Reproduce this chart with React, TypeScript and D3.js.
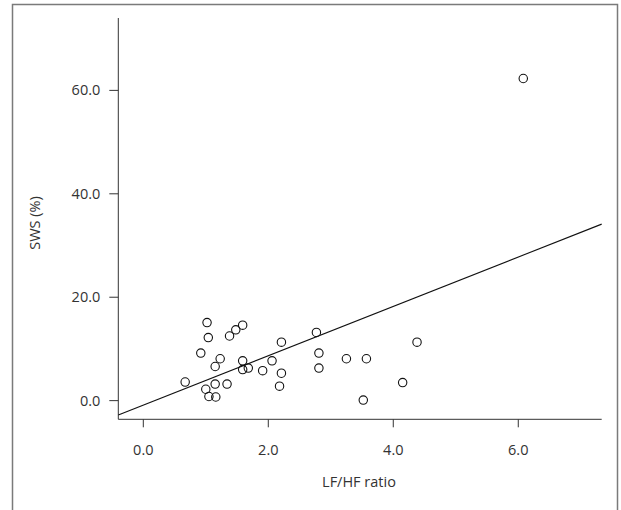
import React from "react";
import * as d3 from "d3";

// LF/HF ratio vs SWS (%)
const lfhf = [
  0.67, 0.92, 1.0, 1.02, 1.04, 1.05, 1.15, 1.15, 1.16, 1.23, 1.34, 1.38, 1.48, 1.59, 1.59, 1.59,
  1.68, 1.91, 2.06, 2.21, 2.21, 2.18, 2.77, 2.81, 2.81, 3.25, 3.57, 3.52, 4.15, 4.38, 6.08,
];
const sws = [
  3.6, 9.2, 2.2, 15.1, 12.2, 0.8, 6.6, 3.2, 0.7, 8.1, 3.2, 12.5, 13.7, 14.6, 7.7, 6.0,
  6.3, 5.8, 7.7, 11.3, 5.3, 2.8, 13.2, 9.2, 6.3, 8.1, 8.1, 0.1, 3.5, 11.3, 62.3,
];
const xTicks = [0, 2, 4, 6];
const yTicks = [0, 20, 40, 60];
// fitted line as drawn in the figure
const fitIntercept = -0.85;
const fitSlope = 4.77;

const W = 621;
const H = 510;
const font = "'Open Sans', 'Liberation Sans', sans-serif";

export default function App() {
  const left = 118.3;
  const right = 601.7;
  const top = 18;
  const bottom = 419.3;

  const x = d3.scaleLinear().domain([-0.4, 7.335]).range([left, right]);
  const y = d3.scaleLinear().domain([-3.61, 74.0]).range([bottom, top]);

  const [x0, x1] = x.domain();
  const fitLine = d3
    .line<number>()
    .x((d) => x(d))
    .y((d) => y(fitIntercept + fitSlope * d))([x0, x1]);

  const fmt = d3.format(".1f");

  return (
    <div style={{ position: "absolute", left: 0, top: 0, background: "#fff" }}>
      <svg width={W} height={H} style={{ display: "block" }}>
        <rect x={12.5} y={4.5} width={605} height={H + 20} fill="#fff" stroke="#7a7a7a" strokeWidth={1.5} />

        {/* y axis */}
        <line x1={left} x2={left} y1={top} y2={bottom} stroke="#333" />
        {yTicks.map((t) => (
          <g key={t} transform={`translate(0,${y(t)})`}>
            <line x1={left - 9} x2={left} stroke="#333" />
            <text x={left - 18} y={5} textAnchor="end" fontFamily={font} fontSize={14.5} fill="#333">
              {fmt(t)}
            </text>
          </g>
        ))}
        <text
          transform={`translate(40,223) rotate(-90)`}
          textAnchor="middle"
          fontFamily={font}
          fontSize={14.5}
          fill="#333"
        >
          SWS (%)
        </text>

        {/* x axis */}
        <line x1={left} x2={right} y1={bottom} y2={bottom} stroke="#333" />
        {xTicks.map((t) => (
          <g key={t} transform={`translate(${x(t)},0)`}>
            <line y1={bottom} y2={bottom + 8} stroke="#333" />
            <text y={455} textAnchor="middle" fontFamily={font} fontSize={14.5} fill="#333">
              {fmt(t)}
            </text>
          </g>
        ))}
        <text x={359} y={487} textAnchor="middle" fontFamily={font} fontSize={14.5} fill="#333">
          LF/HF ratio
        </text>

        <path d={fitLine ?? ""} fill="none" stroke="#111" strokeWidth={1.1} />

        {lfhf.map((v, i) => (
          <circle key={i} cx={x(v)} cy={y(sws[i])} r={4.2} fill="none" stroke="#111" strokeWidth={1.1} />
        ))}
      </svg>
    </div>
  );
}
